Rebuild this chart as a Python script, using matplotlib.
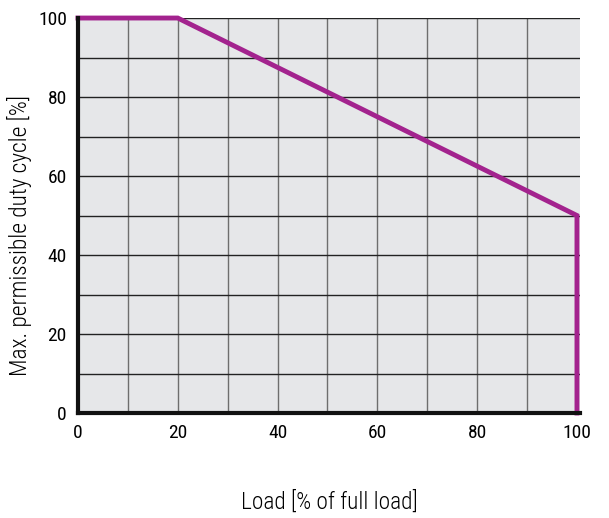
import matplotlib
matplotlib.use("Agg")
import matplotlib.pyplot as plt
from matplotlib import font_manager

# curve: max permissible duty cycle vs. load
load_pct = [0, 20, 100, 100]
duty_pct = [100, 100, 50, 0]

x_ticks = [0, 20, 40, 60, 80, 100]
y_ticks = [0, 20, 40, 60, 80, 100]

x_label = "Load [% of full load]"
y_label = "Max. permissible duty cycle [%]"

names = {f.name for f in font_manager.fontManager.ttflist}
family = "DejaVu Sans"
for cand in ["Roboto Condensed", "Archivo Narrow", "Barlow Semi Condensed"]:
    if cand in names:
        family = cand
        break
plt.rcParams["font.family"] = [family, "DejaVu Sans"]
plt.rcParams["font.stretch"] = "condensed"

fig = plt.figure(figsize=(6.09, 5.18), dpi=100)
ax = fig.add_axes([0.128, 0.2027, 0.8243, 0.7625])
ax.set_facecolor("#e6e7e9")

# grid
for v in range(10, 100, 10):
    ax.axvline(v, color="#6e6e6e", linewidth=1.0, zorder=1)
for h in range(10, 101, 10):
    ax.axhline(h, color="#222222", linewidth=1.0, zorder=1)

ax.plot(load_pct, duty_pct, color="#a3238e", linewidth=3.5, zorder=3,
        solid_joinstyle="miter", clip_on=False)

ax.set_xlim(0, 100.6)
ax.set_ylim(0, 100)
ax.set_xticks(x_ticks)
ax.set_yticks(y_ticks)
ax.tick_params(length=0, labelsize=14)
ax.tick_params(axis="x", pad=8)
ax.tick_params(axis="y", pad=8)

for side in ["top", "right"]:
    ax.spines[side].set_visible(False)
for side in ["left", "bottom"]:
    ax.spines[side].set_linewidth(3)
    ax.spines[side].set_color("#111111")
    ax.spines[side].set_zorder(4)

ax.set_xlabel(x_label, fontsize=16.8, fontweight="light", labelpad=35)
ax.set_ylabel(y_label, fontsize=16.8, fontweight="light")
ax.yaxis.set_label_coords(-0.092, 0.45)

fig.savefig("out.png", dpi=100)
